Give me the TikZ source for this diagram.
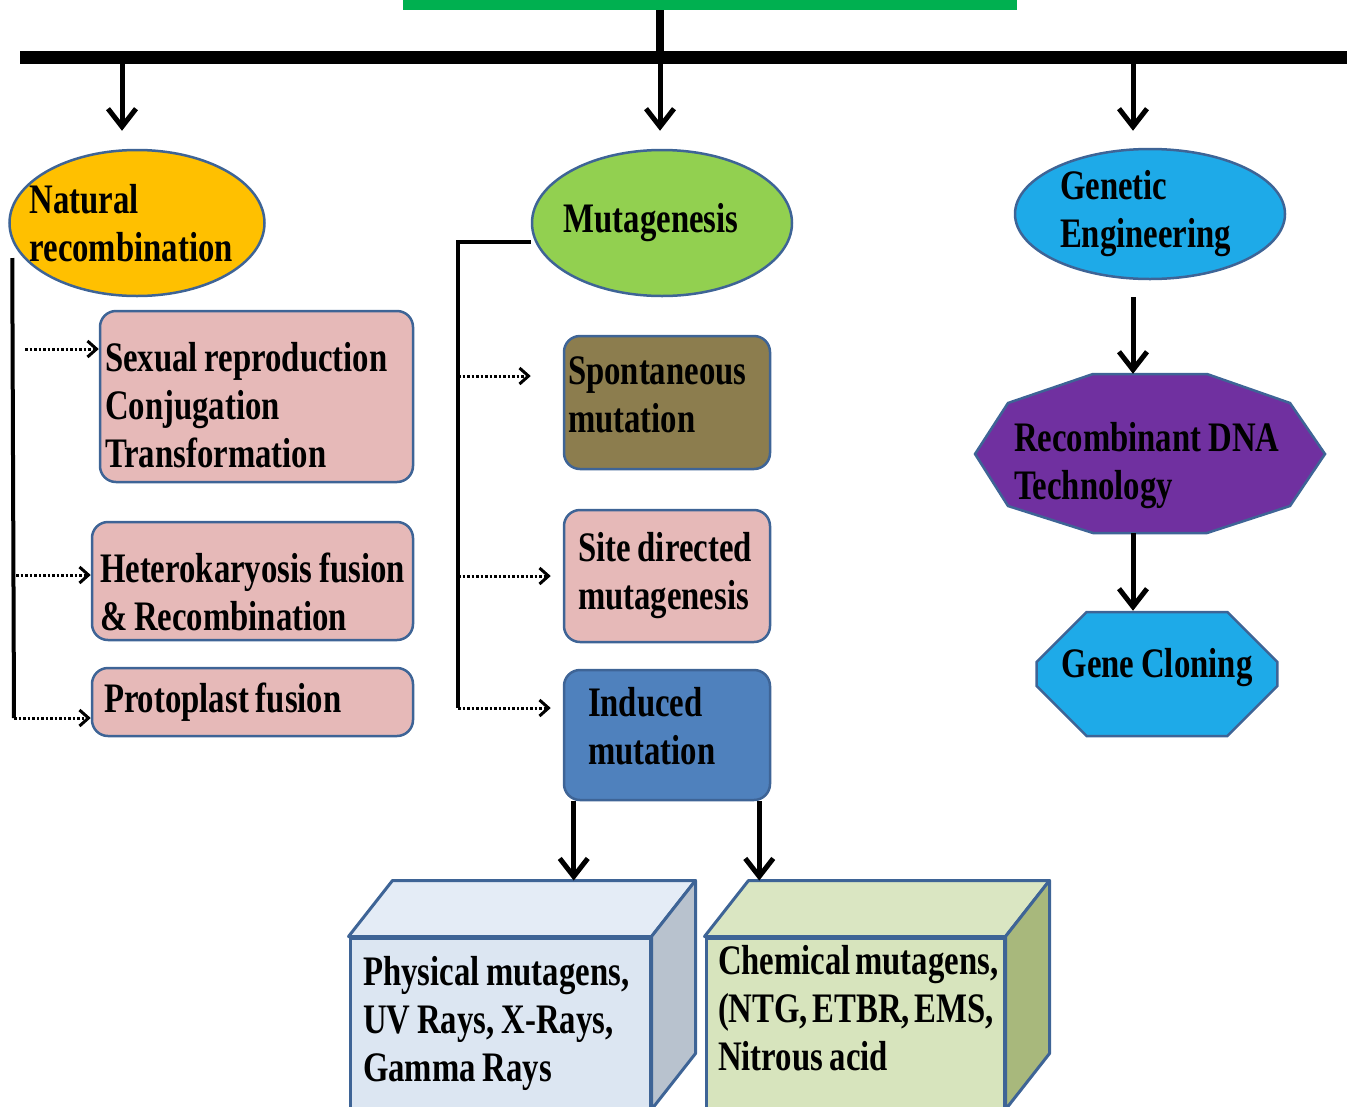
\documentclass[tikz,border=0pt]{standalone}
\usepackage{fontspec}
\setmainfont{Liberation Serif}[FakeStretch=0.78, WordSpace=0.85]
\definecolor{topgreen}{RGB}{0,176,80}
\definecolor{bordc}{RGB}{62,100,150}
\definecolor{natc}{RGB}{255,192,0}
\definecolor{mutc}{RGB}{146,208,80}
\definecolor{genc}{RGB}{30,170,232}
\definecolor{pinkc}{RGB}{230,185,184}
\definecolor{olivec}{RGB}{140,125,78}
\definecolor{indc}{RGB}{79,129,189}
\definecolor{purpc}{RGB}{112,48,160}
\definecolor{physfront}{RGB}{220,230,242}
\definecolor{phystop}{RGB}{228,236,246}
\definecolor{physside}{RGB}{184,194,206}
\definecolor{chemfront}{RGB}{215,228,189}
\definecolor{chemtop}{RGB}{218,230,194}
\definecolor{chemside}{RGB}{168,184,124}
\usetikzlibrary{shapes.geometric, shapes.misc, arrows.meta, calc}
\newcommand{\boxfont}{\fontsize{42}{48}\selectfont\bfseries\hyphenpenalty=10000\relax}

\begin{document}
\begin{tikzpicture}[x=1pt, y=-1pt,
  every node/.style={font=\boxfont},
  ell/.style={ellipse, draw=bordc, line width=2.5pt, inner ysep=0pt},
  rbox/.style={rectangle, rounded corners=16pt, draw=bordc, line width=2.5pt, align=flush left, inner ysep=0pt},
  cube/.style={rectangle, draw=bordc, line width=3pt, align=flush left, inner ysep=0pt},
  face/.style={draw=bordc, line width=3pt, line join=round},
  arr/.style={line width=5pt, -{Straight Barb[length=18pt, width=28pt]}},
  brk/.style={line width=4pt},
  dots/.style={line width=3pt, dash pattern=on 2.5pt off 2pt, -{Straight Barb[length=9pt, width=16pt]}}]
  \useasboundingbox (0,0) rectangle (1347,1106);

  % Title strip and main bar
  \node[fill=topgreen, minimum width=614pt, minimum height=50pt, inner sep=0pt] (title) at (710,-15) {};
  \coordinate (barL) at (20,57);
  \coordinate (barR) at (1360,57);
  \draw[line width=8pt] ([xshift=-50pt]title.south) -- ([xshift=-50pt]title.south |- barL);
  \draw[line width=13pt] (barL) -- (barR);

  % Three branches
  \node[ell, fill=natc, minimum width=255pt, minimum height=146pt, inner xsep=-20pt, text width=215pt, align=flush left] (nat) at (137,223) {Natural\\recombination};
  \node[ell, fill=mutc, minimum width=260pt, minimum height=146pt, inner xsep=0pt] (mut) at (662,223) {\hspace*{-22pt}Mutagenesis};
  \node[ell, fill=genc, minimum width=270pt, minimum height=130pt, inner xsep=-20pt, text width=180pt, align=flush left] (gen) at (1150,214) {Genetic\\Engineering};
  \coordinate (b1) at (122,57);
  \coordinate (b2) at (660,57);
  \coordinate (b3) at (1133,57);
  \draw[arr, shorten >=18pt] (b1) -- (b1 |- nat.north);
  \draw[arr, shorten >=18pt] (b2) -- (b2 |- mut.north);
  \draw[arr, shorten >=17pt] (b3) -- (b3 |- gen.north);

  % Natural recombination
  \node[rbox, fill=pinkc, text width=303pt, inner xsep=5pt, minimum height=171pt] (sex) at (256.5,396.5) {\rule{0pt}{47pt}Sexual~reproduction\\Conjugation\\Transformation};
  \node[rbox, fill=pinkc, text width=305pt, inner xsep=8pt, minimum height=118pt] (het) at (252.5,581) {\rule{0pt}{52pt}Heterokaryosis~fusion\\\&~Recombination};
  \node[rbox, fill=pinkc, text width=297pt, inner xsep=12pt, minimum height=68pt] (pf) at (252.5,702) {Protoplast~fusion};
  \coordinate (ne) at (14,718);
  \coordinate (d1) at (25,349);
  \coordinate (d2) at (16,575);
  \draw[brk] ([xshift=4pt,yshift=-35pt]nat.west) -- (ne);
  \draw[dots] (d1) -- (d1 -| sex.west);
  \draw[dots] (d2) -- (d2 -| het.west);
  \draw[dots] (ne) -- (ne -| pf.west);

  % Mutagenesis
  \node[rbox, fill=olivec, text width=198pt, inner xsep=4pt, minimum height=133pt] (spont) at (667,402.5) {Spontaneous\\mutation\rule[-16pt]{0pt}{16pt}};
  \node[rbox, fill=pinkc, text width=178pt, inner xsep=14pt, minimum height=132pt] (site) at (667,576) {Site~directed\\mutagenesis};
  \node[rbox, fill=indc, text width=158pt, inner xsep=24pt, minimum height=130pt] (ind) at (667,735) {Induced\\mutation\rule[-18pt]{0pt}{18pt}};
  \coordinate (md) at (458,708);
  \coordinate (m1) at (458,376);
  \coordinate (m2) at (458,576);
  \draw[brk] ([yshift=-19pt]mut.west) -| (md);
  \draw[dots, shorten >=32pt] (m1) -- (m1 -| spont.west);
  \draw[dots, shorten >=12pt] (m2) -- (m2 -| site.west);
  \draw[dots, shorten >=12pt] (md) -- (md -| ind.west);

  % Mutagen boxes
  \node[cube, fill=physfront, text width=274pt, inner xsep=13pt, minimum height=170pt] (phys) at (500,1023) {Physical~mutagens,\\UV~Rays,~X-Rays,\\Gamma~Rays};
  \draw[face, fill=phystop] (phys.north west) -- ++(44,-56) -- ($(phys.north east)+(44,-56)$) -- (phys.north east) -- cycle;
  \draw[face, fill=physside] (phys.north east) -- ++(44,-56) -- ($(phys.south east)+(44,-56)$) -- (phys.south east) -- cycle;
  \node[cube, fill=chemfront, text width=274pt, inner xsep=12pt, minimum height=170pt] (chem) at (855,1023) {Chemical~mutagens,\\(NTG,~ETBR,~EMS,\\Nitrous~acid\rule[-30pt]{0pt}{30pt}};
  \draw[face, fill=chemtop] (chem.north west) -- ++(44,-56) -- ($(chem.north east)+(44,-56)$) -- (chem.north east) -- cycle;
  \draw[face, fill=chemside] (chem.north east) -- ++(44,-56) -- ($(chem.south east)+(44,-56)$) -- (chem.south east) -- cycle;
  \coordinate (ptop) at ($(phys.north west)+(0,-56)$);
  \coordinate (ia) at ([xshift=11pt]ind.south west);
  \coordinate (ib) at ([xshift=-12pt]ind.south east);
  \draw[arr] (ia) -- (ia |- ptop);
  \draw[arr] (ib) -- (ib |- ptop);

  % Genetic engineering
  \draw[draw=bordc, line width=2.5pt, fill=purpc] (1093,374) -- (1207,374) -- (1290,403) -- (1325,454) -- (1290,506) -- (1207,533) -- (1093,533) -- (1008,506) -- (975,454) -- (1008,403) -- cycle;
  \node[text width=272pt, align=flush left, minimum height=159pt, inner sep=0pt] (rdna) at (1150,453.5) {\rule{0pt}{54pt}Recombinant~DNA\\Technology};
  \node[chamfered rectangle, chamfered rectangle xsep=25pt, chamfered rectangle ysep=25pt, draw=bordc, line width=2.5pt, fill=genc, minimum width=240pt, minimum height=124pt, inner sep=0pt] (gc) at (1157,674) {Gene~Cloning\rule[-22pt]{0pt}{22pt}};
  \draw[arr, shorten <=17pt] ([xshift=-17pt]gen.south) -- ([xshift=-17pt]gen.south |- rdna.north);
  \draw[arr] ([xshift=-17pt]rdna.south) -- ([xshift=-17pt]rdna.south |- gc.north);
\end{tikzpicture}
\end{document}
